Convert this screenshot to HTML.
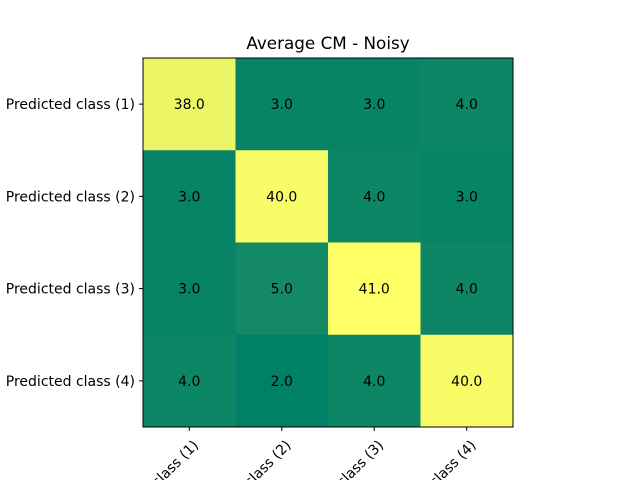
<!DOCTYPE html>
<html><head><meta charset="utf-8"><style>
html,body{margin:0;background:#fff;width:640px;height:480px;overflow:hidden;}
svg{display:block;overflow:hidden;font-family:"DejaVu Sans","Liberation Sans",sans-serif;}
</style></head><body>
<svg id="chart" width="640" height="480">
<text x="328" y="49" font-size="16.8" text-anchor="middle">Average CM - Noisy</text>
<g id="cells"></g>
<rect x="143" y="58" width="370" height="369" fill="none" stroke="#000" stroke-width="1"/>
<g id="ticks"></g>
</svg>
<script>
const rowLabels = ["Predicted class (1)","Predicted class (2)","Predicted class (3)","Predicted class (4)"];
const colLabels = ["Actual class (1)","Actual class (2)","Actual class (3)","Actual class (4)"];
const row1 = [38,3,3,4];
const row2 = [3,40,4,3];
const row3 = [3,5,41,4];
const row4 = [4,2,4,40];
const values = [row1,row2,row3,row4];
const svg = document.getElementById('chart');
const NS = 'http://www.w3.org/2000/svg';
const X0=143, Y0=58, W=370, H=369;
const nR = values.length, nC = colLabels.length;
const cw = W/nC, ch = H/nR;
const flat = values.flat();
const vmin = Math.min(...flat), vmax = Math.max(...flat);
const FS = 14;
function xPos(j){return X0 + j*cw;}
function yPos(i){return Y0 + i*ch;}
function color(v){const t=(v-vmin)/(vmax-vmin);return `rgb(${Math.round(255*t)},${Math.round(255*(0.5+t/2))},102)`;}
const cells = document.getElementById('cells');
const ticks = document.getElementById('ticks');
values.forEach((row,i)=>row.forEach((v,j)=>{
  const r=document.createElementNS(NS,'rect');
  r.setAttribute('x',xPos(j));r.setAttribute('y',yPos(i));
  r.setAttribute('width',cw+0.5);r.setAttribute('height',ch+0.5);
  r.setAttribute('fill',color(v));
  
  
  cells.appendChild(r);
  const t=document.createElementNS(NS,'text');
  t.setAttribute('x',xPos(j)+cw/2);t.setAttribute('y',yPos(i)+ch/2+5);
  t.setAttribute('text-anchor','middle');t.setAttribute('font-size',FS);
  t.textContent=v.toFixed(1);
  
  
  cells.appendChild(t);
}));
rowLabels.forEach((lab,i)=>{
  const y=yPos(i)+ch/2;
  const l=document.createElementNS(NS,'line');
  l.setAttribute('x1',X0-4);l.setAttribute('x2',X0);l.setAttribute('y1',y);l.setAttribute('y2',y);l.setAttribute('stroke','#000');
  
  
  ticks.appendChild(l);
  const t=document.createElementNS(NS,'text');
  t.setAttribute('x',X0-8);t.setAttribute('y',y+5);t.setAttribute('text-anchor','end');t.setAttribute('font-size',FS);
  t.textContent=lab;
  
  
  ticks.appendChild(t);
});
colLabels.forEach((lab,j)=>{
  const x=xPos(j)+cw/2;
  const l=document.createElementNS(NS,'line');
  l.setAttribute('x1',x);l.setAttribute('x2',x);l.setAttribute('y1',Y0+H);l.setAttribute('y2',Y0+H+4);l.setAttribute('stroke','#000');
  
  
  ticks.appendChild(l);
  const t=document.createElementNS(NS,'text');
  const ax=x+10, ay=Y0+H+19;
  t.setAttribute('x',ax);t.setAttribute('y',ay);t.setAttribute('text-anchor','end');t.setAttribute('font-size',FS);
  t.setAttribute('transform',`rotate(-45 ${ax} ${ay})`);
  t.textContent=lab;
  
  
  ticks.appendChild(t);
});
</script>
</body></html>
